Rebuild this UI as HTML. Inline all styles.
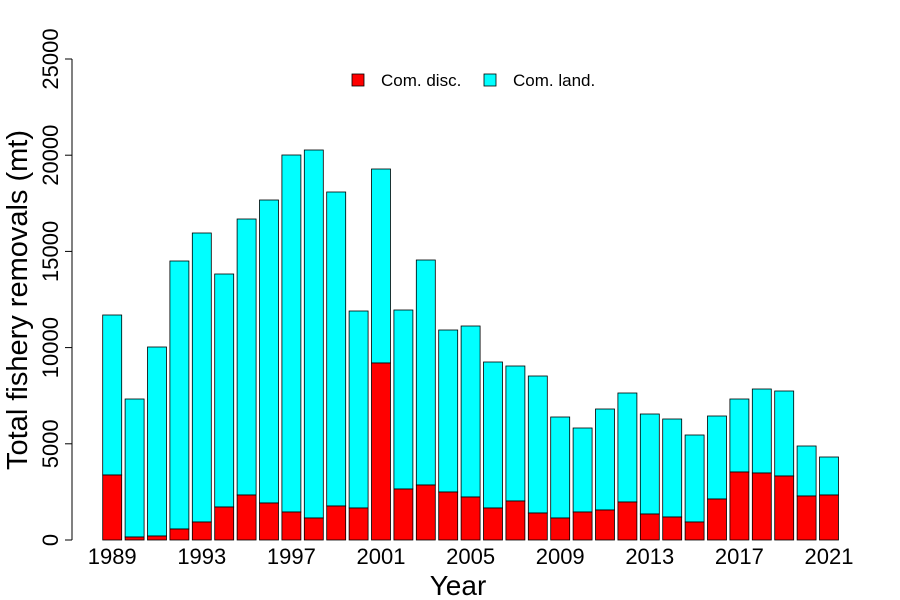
<!DOCTYPE html>
<html><head><style>body{margin:0;background:#fff}svg{display:block}text{font-family:"Liberation Sans",sans-serif}</style></head><body>
<svg width="900" height="600" xmlns="http://www.w3.org/2000/svg">
<g id="bars" stroke="#000" stroke-width="0.8"></g>
<line x1="72" y1="59" x2="72" y2="540" stroke="#000"/>
<g id="yt"></g>
<g id="xt" font-size="22" text-anchor="middle"></g>
<text x="458" y="595" font-size="28" text-anchor="middle">Year</text>
<text transform="translate(27,300) rotate(-90)" font-size="29" text-anchor="middle">Total fishery removals (mt)</text>
<rect x="352" y="74" width="12" height="12" fill="#f00" stroke="#000" stroke-width="0.8"/>
<text x="381" y="86" font-size="17">Com. disc.</text>
<rect x="484" y="74" width="12" height="12" fill="#0ff" stroke="#000" stroke-width="0.8"/>
<text x="513" y="86" font-size="17">Com. land.</text>
</svg>
<script>
var tops=[315,399,347,261,233,274,219,200,155,150,192,311,169,310,260,330,326,362,366,376,417,428,409,393,414,419,435,416,399,389,391,446,457];
var ds=[475,537,536,529,522,507,495,503,512,518,506,508,363,489,485,492,497,508,501,513,518,512,510,502,514,517,522,499,472,473,476,496,495];
var g=document.getElementById('bars'),s='';
for(var i=0;i<33;i++){var x=102.7+i*22.4;
s+='<rect x="'+x+'" y="'+tops[i]+'" width="19" height="'+(ds[i]-tops[i])+'" fill="#0ff"/>';
s+='<rect x="'+x+'" y="'+ds[i]+'" width="19" height="'+(540-ds[i])+'" fill="#f00"/>';}
g.innerHTML=s;
var yt='';for(var v=0;v<=25000;v+=5000){var y=540-v*0.01924;
yt+='<line x1="65" x2="72" y1="'+y+'" y2="'+y+'" stroke="#000"/><text transform="translate(58,'+y+') rotate(-90)" font-size="22" text-anchor="middle">'+v+'</text>';}
document.getElementById('yt').innerHTML=yt;
var xt='';for(var i=0;i<33;i+=4){xt+='<text x="'+(112.2+i*22.4)+'" y="564">'+(1989+i)+'</text>';}
document.getElementById('xt').innerHTML=xt;
</script>
</body></html>
